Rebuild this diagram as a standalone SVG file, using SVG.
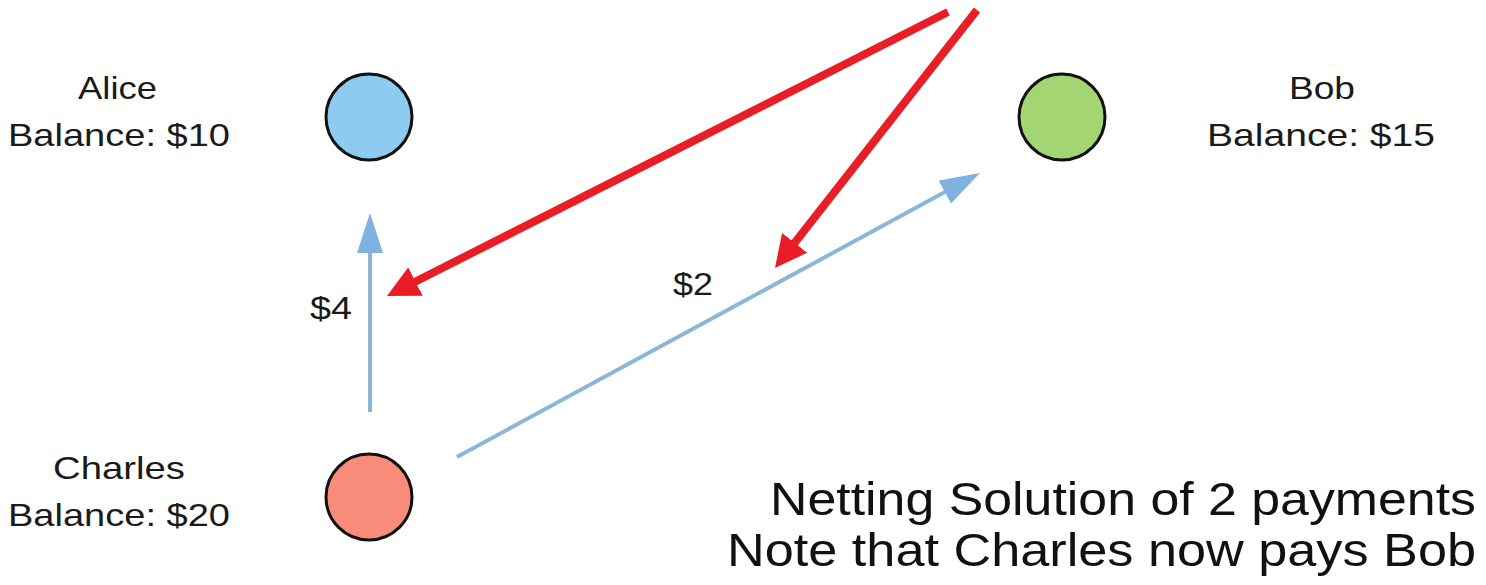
<svg xmlns="http://www.w3.org/2000/svg" width="1486" height="585" viewBox="0 0 1486 585">
<defs>
<style>
.lbl{font-family:"Liberation Sans",Arial,sans-serif;font-size:32px;fill:#1a1a1a}
.note{font-family:"Liberation Sans",Arial,sans-serif;font-size:47px;fill:#111}
.node{stroke:#111;stroke-width:3}
.blue{stroke:#8cb6d8;stroke-width:4;fill:none}
.red{stroke:#e91d26;stroke-width:8;fill:none}
</style>
<marker id="bh" markerUnits="userSpaceOnUse" markerWidth="40" markerHeight="26" refX="10" refY="13" orient="auto" viewBox="0 0 40 26">
<path d="M0,0 L40,13 L0,26 z" fill="#7fb2e0"/>
</marker>
<marker id="rh" markerUnits="userSpaceOnUse" markerWidth="32" markerHeight="32" refX="12" refY="16" orient="auto" viewBox="0 0 32 32">
<path d="M0,0 L32,16 L0,32 z" fill="#e91d26"/>
</marker>
</defs>
<rect width="1486" height="585" fill="#fff"/>
<g id="connectors">
<line class="blue" x1="370" y1="412" x2="370" y2="243" marker-end="url(#bh)"/>
<line class="blue" x1="457" y1="457" x2="953.6" y2="187.3" marker-end="url(#bh)"/>
<text class="lbl" x="310" y="319" textLength="42" lengthAdjust="spacingAndGlyphs">$4</text>
<text class="lbl" x="673" y="295" textLength="40" lengthAdjust="spacingAndGlyphs">$2</text>
<line class="red" x1="948" y1="12" x2="404.8" y2="287" marker-end="url(#rh)"/>
<line class="red" x1="977" y1="10" x2="787.3" y2="252.3" marker-end="url(#rh)"/>
</g>
<g id="alice">
<circle class="node" cx="369" cy="117" r="43" fill="#8ecbf0"/>
<text class="lbl" x="78" y="99" textLength="79" lengthAdjust="spacingAndGlyphs">Alice</text>
<text class="lbl" x="8" y="146" textLength="222" lengthAdjust="spacingAndGlyphs">Balance: $10</text>
</g>
<g id="bob">
<circle class="node" cx="1062" cy="117" r="43" fill="#a3d572"/>
<text class="lbl" x="1289" y="99" textLength="66" lengthAdjust="spacingAndGlyphs">Bob</text>
<text class="lbl" x="1207" y="146" textLength="228" lengthAdjust="spacingAndGlyphs">Balance: $15</text>
</g>
<g id="charles">
<circle class="node" cx="369" cy="497" r="43" fill="#f98b7b"/>
<text class="lbl" x="53" y="479" textLength="132" lengthAdjust="spacingAndGlyphs">Charles</text>
<text class="lbl" x="8" y="526" textLength="222" lengthAdjust="spacingAndGlyphs">Balance: $20</text>
</g>
<g id="note">
<text class="note" x="770" y="515" textLength="706" lengthAdjust="spacingAndGlyphs">Netting Solution of 2 payments</text>
<text class="note" x="727" y="566" textLength="749" lengthAdjust="spacingAndGlyphs">Note that Charles now pays Bob</text>
</g>
</svg>
